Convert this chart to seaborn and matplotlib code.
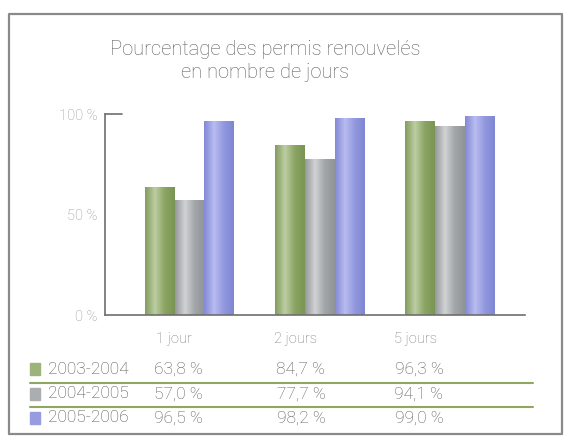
import numpy as np
import pandas as pd
import seaborn as sns
import matplotlib.pyplot as plt
from matplotlib.colors import LinearSegmentedColormap
from matplotlib.lines import Line2D
from matplotlib.patches import Rectangle

categories = ['1 jour', '2 jours', '5 jours']
periods = ['2003-2004', '2004-2005', '2005-2006']
v_0304 = [63.8, 84.7, 96.3]
v_0405 = [57.0, 77.7, 94.1]
v_0506 = [96.5, 98.2, 99.0]
labels_0304 = ['63,8 %', '84,7 %', '96,3 %']
labels_0405 = ['57,0 %', '77,7 %', '94,1 %']
labels_0506 = ['96,5 %', '98,2 %', '99,0 %']

base = ['#9cb37a', '#abaeb1', '#979ce0']
shades = [('#839c5e', '#bccda2', '#8aa462', '#7a9553'),
          ('#96999c', '#d0d2d4', '#a3a6a9', '#919497'),
          ('#8389d6', '#b8bcf0', '#9298de', '#7f86d2')]

df = pd.DataFrame({
    'cat': categories * 3,
    'period': [p for p in periods for _ in categories],
    'val': v_0304 + v_0405 + v_0506,
})

sns.set_style('white')
plt.rcParams['font.family'] = ['Roboto', 'DejaVu Sans']

fig = plt.figure(figsize=(5.64, 4.37), dpi=100)
ax = fig.add_axes([0.186, 0.279, 0.745, 0.460])

sns.barplot(data=df, x='cat', y='val', hue='period', palette=base,
            width=0.69, gap=0, ax=ax, legend=False, saturation=1)

# cylinder-like shading on each bar
for i, patch in enumerate(ax.patches):
    h = patch.get_height()
    if h <= 0:
        continue
    cm = LinearSegmentedColormap.from_list('g', list(shades[i // 3]))
    grad = np.linspace(0, 1, 64).reshape(1, -1)
    x0 = patch.get_x()
    w = patch.get_width()
    im = ax.imshow(grad, cmap=cm, aspect='auto', extent=(x0, x0 + w, 0, h),
                   zorder=patch.get_zorder() + 0.1)
    im.set_clip_path(patch)

ax.set_xlim(-0.65, 2.58)
ax.set_ylim(0, 100)
ax.set_yticks([0, 50, 100])
ax.set_yticklabels(['0 %', '50 %', '100 %'], color='#949494', fontsize=10.5,
                   fontweight='light')
ax.set_xticks([])
ax.set_xlabel('')
ax.set_ylabel('')
for s in ['top', 'right']:
    ax.spines[s].set_visible(False)
for s in ['left', 'bottom']:
    ax.spines[s].set_color('#6e6e6e')
    ax.spines[s].set_linewidth(1.2)
ax.tick_params(axis='y', length=5, width=1.2, color='#6e6e6e', direction='inout', pad=3)
ax.plot([0, 0.04], [100, 100], transform=ax.get_yaxis_transform(), color='#6e6e6e',
        lw=1.2, clip_on=False)

fig.text(265 / 564, 1 - 61 / 437, 'Pourcentage des permis renouvelés\nen nombre de jours',
         ha='center', va='center', fontsize=14.5, color='#5e5e5e', linespacing=1.3,
         fontweight='light')

# table under the chart
cat_x = [174, 296, 416]
val_x = [178, 301, 419]
for x, c in zip(cat_x, categories):
    fig.text(x / 564, 1 - 339 / 437, c, ha='center', va='center', fontsize=10.5,
             color='#7a7a7a', fontweight='light')

row_y = [1 - 369 / 437, 1 - 394 / 437, 1 - 418 / 437]
rows = [labels_0304, labels_0405, labels_0506]
for r, (y, p, vals) in enumerate(zip(row_y, periods, rows)):
    fig.patches.append(Rectangle((30 / 564, y - 0.014), 10 / 564, 0.028,
                                 transform=fig.transFigure, color=base[r]))
    fig.text(48 / 564, y, p, ha='left', va='center', fontsize=12.5, color='#505050',
             fontweight='light')
    for x, v in zip(val_x, vals):
        fig.text(x / 564, y, v, ha='center', va='center', fontsize=12.5, color='#5a5a5a',
                 fontweight='light')

for yy in [383, 407]:
    fig.add_artist(Line2D([30 / 564, 533 / 564], [1 - yy / 437] * 2,
                          color='#8fa860', lw=1.5))

# outer frame
fig.add_artist(Line2D([9 / 564, 9 / 564, 562 / 564, 562 / 564, 9 / 564],
                      [1 - 434 / 437, 1 - 14 / 437, 1 - 14 / 437, 1 - 434 / 437, 1 - 434 / 437],
                      color='#8a8a8a', lw=1.6))

fig.savefig('out.png', dpi=100)
